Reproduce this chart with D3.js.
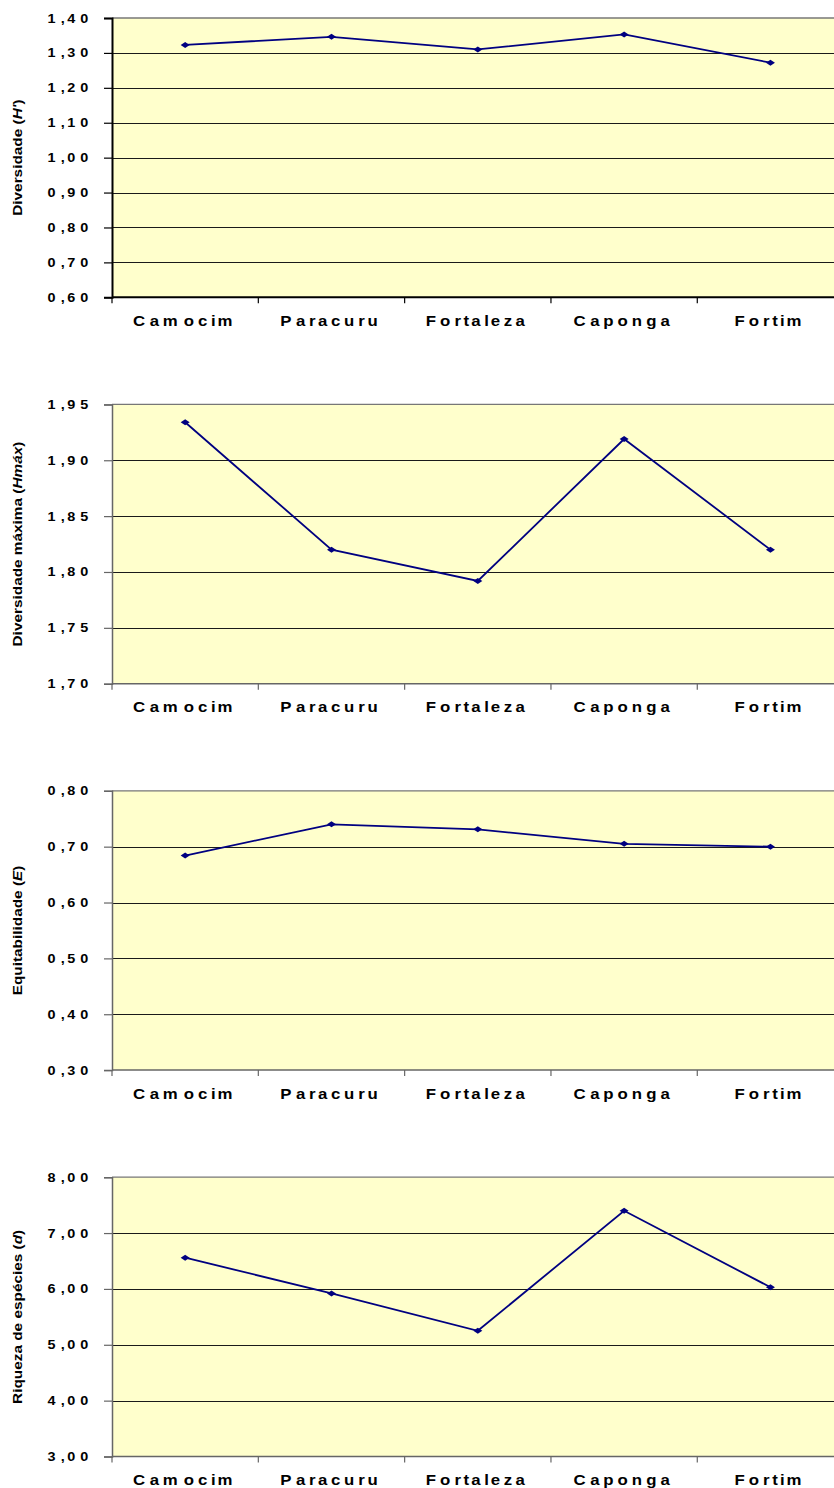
<!DOCTYPE html>
<html>
<head>
<meta charset="utf-8">
<script src="https://cdn.jsdelivr.net/npm/d3@7"></script>
<style>
  html, body { margin: 0; padding: 0; background: #fff; }
  svg { display: block; font-family: "Liberation Sans", Arial, sans-serif; font-weight: bold; }
  text { white-space: pre; }
</style>
</head>
<body>
<svg id="chart" width="834" height="1488"></svg>
<script>
// Sampling sites along the coast
const sites = ["Camocim", "Paracuru", "Fortaleza", "Caponga", "Fortim"];

// Community indices per site
const diversidade    = [1.323, 1.346, 1.310, 1.353, 1.272];
const diversidadeMax = [1.934, 1.820, 1.792, 1.919, 1.820];
const equitabilidade = [0.684, 0.740, 0.731, 0.705, 0.700];
const riqueza        = [6.56, 5.92, 5.25, 7.40, 6.03];

// Y-axis tick values for each panel
const ticksH    = [0.60, 0.70, 0.80, 0.90, 1.00, 1.10, 1.20, 1.30, 1.40];
const ticksHmax = [1.70, 1.75, 1.80, 1.85, 1.90, 1.95];
const ticksE    = [0.30, 0.40, 0.50, 0.60, 0.70, 0.80];
const ticksD    = [3, 4, 5, 6, 7, 8];

// Axis titles (italic parts flagged)
const titleH    = [{t: "Diversidade ("}, {t: "H'", i: true}, {t: ")"}];
const titleHmax = [{t: "Diversidade máxima ("}, {t: "Hmáx", i: true}, {t: ")"}];
const titleE    = [{t: "Equitabilidade ("}, {t: "E", i: true}, {t: ")"}];
const titleD    = [{t: "Riqueza de espécies ("}, {t: "d", i: true}, {t: ")"}];

const panels = [
  {values: diversidade,    ticks: ticksH,    title: titleH,    strong: true},
  {values: diversidadeMax, ticks: ticksHmax, title: titleHmax, strong: false},
  {values: equitabilidade, ticks: ticksE,    title: titleE,    strong: false},
  {values: riqueza,        ticks: ticksD,    title: titleD,    strong: false}
];

const svg = d3.select("#chart");
const fmt = d3.formatLocale({decimal: ",", thousands: ".", grouping: [3], currency: ["", ""]}).format(".2f");

// Layout
const left = 112, right = 843.6;
const firstTop = 18, panelStep = 386.4, plotH = 279.3;

// Hidden element used to measure glyph advances
const meas = svg.append("text").attr("font-weight", "bold").attr("opacity", 0).attr("x", -1000).attr("y", -1000);
function advance(ch, size, italic) {
  meas.attr("font-size", size).attr("font-style", italic ? "italic" : "normal").text(ch);
  return meas.node().getComputedTextLength();
}

// Text laid out character by character with widened spacing
function spacedText(parent, segments, o) {
  const chars = [];
  segments.forEach(s => Array.from(s.t).forEach(c => chars.push({c, it: !!s.i})));
  let x = 0;
  chars.forEach(d => { d.adv = advance(d.c, o.size, d.it); d.x = x; x += d.adv * o.gap; });
  const last = chars[chars.length - 1];
  const width = last.x + last.adv;
  const off = o.align === "end" ? -width : o.align === "middle" ? -width / 2 : 0;
  const t = parent.append("text")
    .attr("transform", `translate(${o.tx},${o.ty})${o.rotate ? ` rotate(${o.rotate})` : ""} scale(${o.sx},1)`)
    .attr("font-size", o.size)
    .attr("fill", "#000");
  t.selectAll("tspan").data(chars).join("tspan")
    .attr("x", d => d.x + off)
    .attr("font-style", d => d.it ? "italic" : null)
    .text(d => d.c);
  return t;
}

const diamond = "M-4.5,0L0,-3L4.5,0L0,3Z";

panels.forEach((p, i) => {
  const top = firstTop + i * panelStep;
  const bottom = top + plotH;
  const g = svg.append("g");

  const x = d3.scaleBand().domain(sites).range([left, right]).paddingInner(0).paddingOuter(0);
  const cx = s => x(s) + x.bandwidth() / 2;
  const y = d3.scaleLinear().domain([p.ticks[0], p.ticks[p.ticks.length - 1]]).range([bottom, top]);

  // Plot background
  g.append("rect")
    .attr("x", left).attr("y", top)
    .attr("width", right - left).attr("height", bottom - top)
    .attr("fill", "#FFFFCC");

  // Horizontal gridlines
  g.selectAll("line.grid").data(p.ticks.slice(1, -1)).join("line")
    .attr("x1", left).attr("x2", right)
    .attr("y1", d => Math.round(y(d)) + 0.5).attr("y2", d => Math.round(y(d)) + 0.5)
    .attr("stroke", "#1a1a1a").attr("stroke-width", 1);

  // Plot frame top
  g.append("line")
    .attr("x1", left).attr("x2", right)
    .attr("y1", top).attr("y2", top)
    .attr("stroke", "#777").attr("stroke-width", 1.3);

  const axisColor = p.strong ? "#000" : "#666";
  const axisWidth = p.strong ? 2 : 1.5;

  // Y axis with outward ticks
  const yAxis = d3.axisLeft(y).tickValues(p.ticks).tickSize(8).tickFormat("");
  const ya = g.append("g").attr("transform", `translate(${left},0)`).call(yAxis);
  ya.select(".domain").attr("stroke", axisColor).attr("stroke-width", axisWidth);
  ya.selectAll(".tick line").attr("stroke", axisColor).attr("stroke-width", 1.2);

  // X axis with ticks between categories
  const xa = g.append("g").attr("transform", `translate(0,${bottom})`);
  xa.append("line").attr("x1", left).attr("x2", right).attr("y1", 0).attr("y2", 0)
    .attr("stroke", axisColor).attr("stroke-width", axisWidth);
  const bounds = sites.map(s => x(s)).concat([right]);
  xa.selectAll("line.tk").data(bounds).join("line")
    .attr("class", "tk")
    .attr("x1", d => d).attr("x2", d => d).attr("y1", 0).attr("y2", 6)
    .attr("stroke", axisColor).attr("stroke-width", 1.2);

  // Y tick labels
  p.ticks.forEach(v => {
    spacedText(g, [{t: fmt(v)}], {size: 12, sx: 1.2, gap: 1.63, tx: 88.3, ty: y(v) + 4.5, align: "end"});
  });

  // Category labels
  sites.forEach(s => {
    spacedText(g, [{t: s}], {size: 14, sx: 1.2, gap: 1.39, tx: cx(s) - 2.5, ty: bottom + 28.5, align: "middle"});
  });

  // Axis title
  spacedText(g, p.title, {size: 13, sx: 1.18, gap: 1, tx: 21.5, ty: (top + bottom) / 2, rotate: -90, align: "middle"});

  // Series line and markers
  const line = d3.line().x((d, k) => cx(sites[k])).y(d => y(d));
  g.append("path").datum(p.values)
    .attr("d", line)
    .attr("fill", "none").attr("stroke", "#000080").attr("stroke-width", 1.8);
  g.selectAll("path.mk").data(p.values).join("path")
    .attr("class", "mk")
    .attr("d", diamond)
    .attr("transform", (d, k) => `translate(${cx(sites[k])},${y(d)})`)
    .attr("fill", "#000080");
});
meas.remove();
</script>
</body>
</html>
